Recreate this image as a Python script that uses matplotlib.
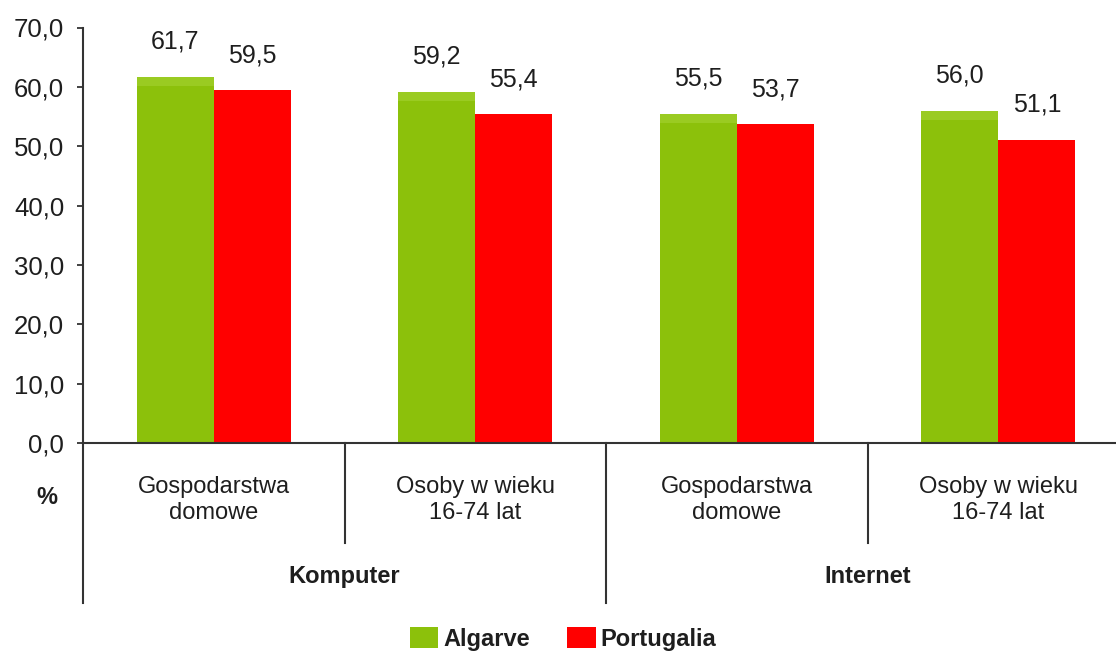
import matplotlib.pyplot as plt
from matplotlib.patches import Patch

# dane
kategorie = ["Gospodarstwa\ndomowe", "Osoby w wieku\n16-74 lat",
             "Gospodarstwa\ndomowe", "Osoby w wieku\n16-74 lat"]
grupy = ["Komputer", "Internet"]
algarve = [61.7, 59.2, 55.5, 56.0]
portugalia = [59.5, 55.4, 53.7, 51.1]
y_ticks = [0, 10, 20, 30, 40, 50, 60, 70]

plt.rcParams['font.family'] = ['Liberation Sans', 'DejaVu Sans']

ZIELONY = '#8cc10b'
ZIELONY_JASNY = '#9acb22'
CZERWONY = '#ff0000'
TEKST = '#1e1e1e'
LINIA = '#333333'

fig = plt.figure(figsize=(11.16, 6.52), dpi=100)
ax = fig.add_axes([83 / 1116, 1 - 443 / 652, 1046 / 1116, 415.5 / 652])

x = list(range(len(kategorie)))
w = 0.295
xa = [i - w / 2 for i in x]
xp = [i + w / 2 for i in x]

ax.bar(xa, algarve, width=w, color=ZIELONY, linewidth=0, zorder=2)
# jasniejszy pasek na gorze zielonych slupkow
ax.bar(xa, [1.6] * len(algarve), bottom=[v - 1.6 for v in algarve], width=w,
       color=ZIELONY_JASNY, linewidth=0, zorder=2)
ax.bar(xp, portugalia, width=w, color=CZERWONY, linewidth=0, zorder=2)

def fmt(v):
    return f"{v:.1f}".replace('.', ',')

for xi, v in zip(xa, algarve):
    ax.annotate(fmt(v), (xi, v), xytext=(0, 20), textcoords='offset points',
                ha='center', va='baseline', fontsize=18, color=TEKST)
for xi, v in zip(xp, portugalia):
    ax.annotate(fmt(v), (xi, v), xytext=(0, 20), textcoords='offset points',
                ha='center', va='baseline', fontsize=18, color=TEKST)

ax.set_xlim(-0.5, 3.5)
ax.set_ylim(0, 70)
ax.set_yticks(y_ticks)
ax.set_yticklabels([fmt(t) for t in y_ticks], fontsize=18.5, color=TEKST)
ax.tick_params(axis='y', direction='out', length=4.5, width=1.3, color=LINIA, pad=9)
ax.set_xticks([])

for s in ['top', 'right']:
    ax.spines[s].set_visible(False)
for s in ['left', 'bottom']:
    ax.spines[s].set_color(LINIA)
    ax.spines[s].set_linewidth(1.5)

# linie podzialu pod osia
ax.plot([-0.5, -0.5], [0, -27], color=LINIA, lw=1.5, clip_on=False)
ax.plot([1.5, 1.5], [0, -27], color=LINIA, lw=1.5, clip_on=False)
ax.plot([0.5, 0.5], [0, -16.9], color=LINIA, lw=1.5, clip_on=False)
ax.plot([2.5, 2.5], [0, -16.9], color=LINIA, lw=1.5, clip_on=False)

for i, k in enumerate(kategorie):
    ax.text(i, -9.6, k, ha='center', va='center', fontsize=17, color=TEKST,
            linespacing=1.2)
for j, g in enumerate(grupy):
    ax.text(2 * j + 0.5, -22.5, g, ha='center', va='center', fontsize=17,
            fontweight='bold', color=TEKST)

ax.text(-0.638, -9.1, '%', ha='center', va='center', fontsize=17,
        fontweight='bold', color=TEKST)

uchwyty = [Patch(facecolor=ZIELONY, edgecolor='none'),
           Patch(facecolor=CZERWONY, edgecolor='none')]
leg = fig.legend(uchwyty, ['Algarve', 'Portugalia'], loc='center',
                 bbox_to_anchor=(563 / 1116, 1 - 639 / 652), ncol=2, frameon=False,
                 prop={'size': 17, 'weight': 'bold'}, handlelength=1.2,
                 handleheight=1.0, handletextpad=0.2, columnspacing=1.6,
                 borderpad=0.1)
for t in leg.get_texts():
    t.set_color(TEKST)

fig.savefig('out.png', dpi=100)
